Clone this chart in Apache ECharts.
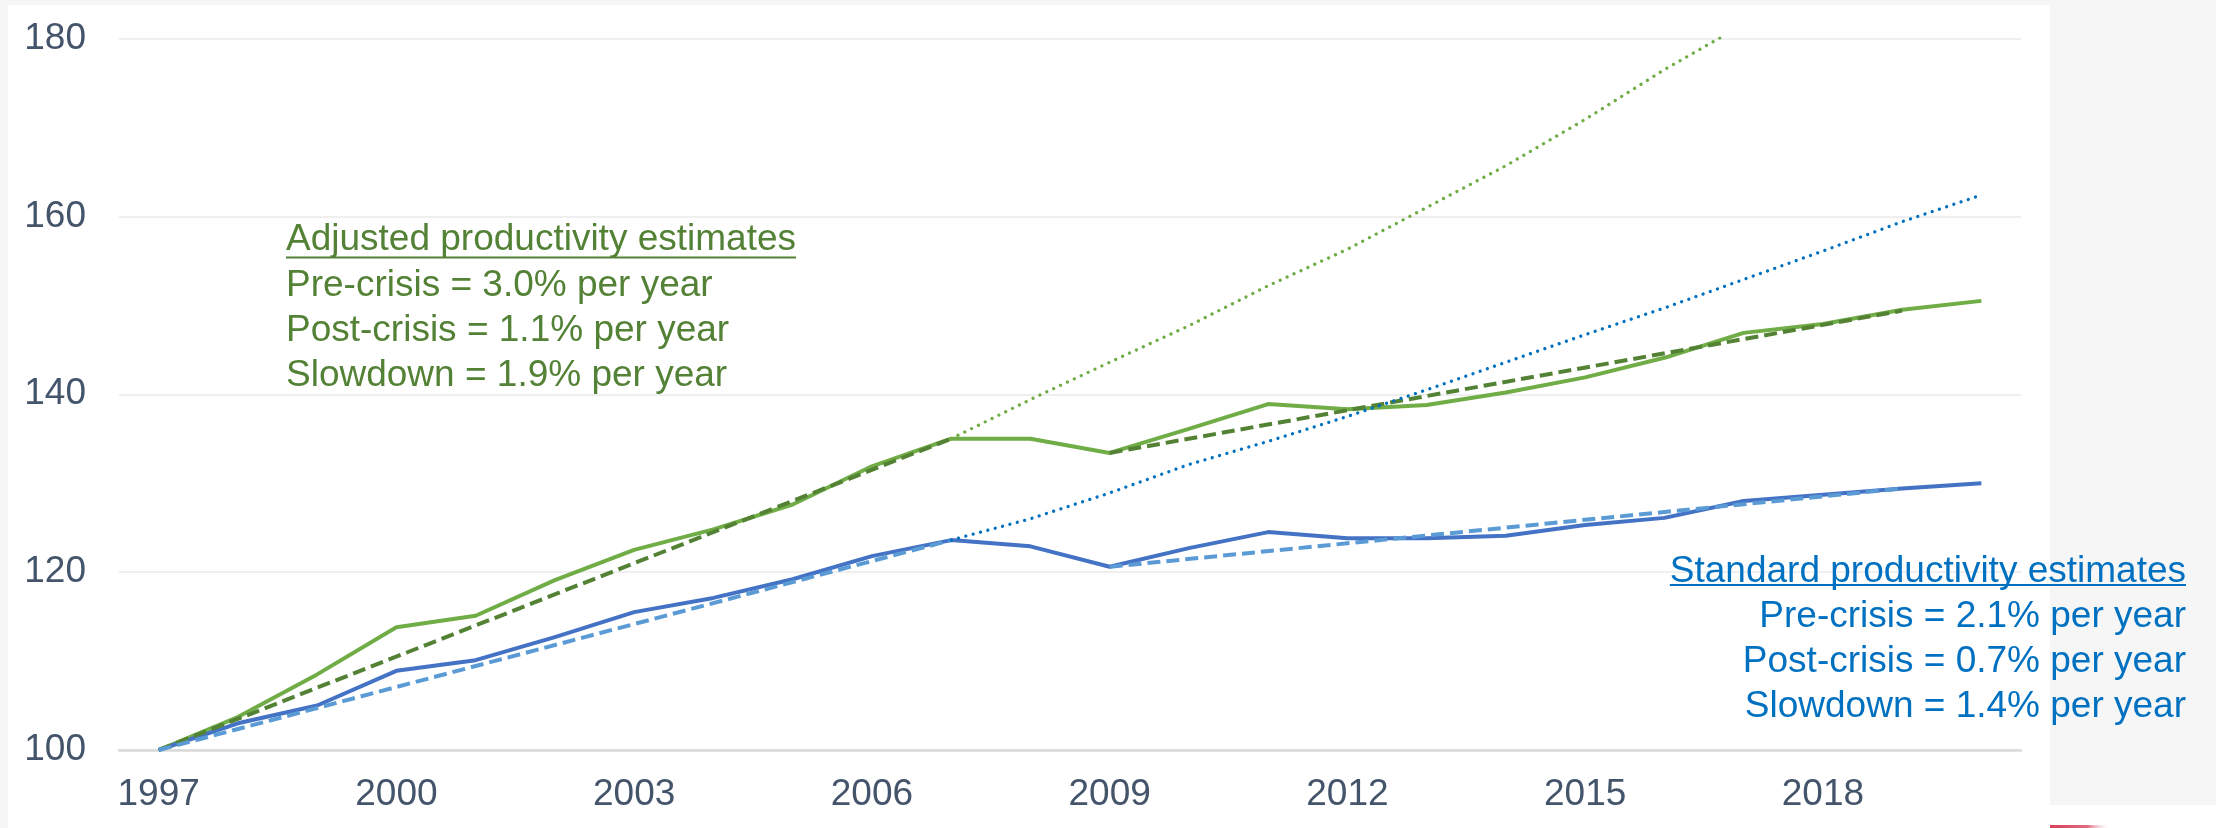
<!DOCTYPE html>
<html><head><meta charset="utf-8">
<script src="https://cdn.jsdelivr.net/npm/echarts@6/dist/echarts.min.js"></script>
<style>html,body{margin:0;padding:0;background:#f6f6f6}#c{width:2216px;height:828px}</style>
</head><body><div id="c"></div>
<script>
const years = ['1997','1998','1999','2000','2001','2002','2003','2004','2005','2006','2007','2008',
  '2009','2010','2011','2012','2013','2014','2015','2016','2017','2018','2019','2020'];
const adjusted = [100, 103.7, 108.5, 113.8, 115.1, 119.1, 122.5, 124.8, 127.6, 131.9, 135.0, 135.0,
  133.4, 136.1, 138.9, 138.3, 138.8, 140.2, 141.9, 144.1, 146.9, 147.9, 149.5, 150.5];
const standard = [100, 103.0, 105.0, 108.9, 110.1, 112.7, 115.5, 117.1, 119.2, 121.8, 123.6, 122.9,
  120.6, 122.7, 124.5, 123.8, 123.8, 124.1, 125.3, 126.1, 128.0, 128.7, 129.4, 130.0];
const adjustedPreTrend = [100, null, null, null, null, null, null, null, null, null, 135.0, null,
  null, null, null, null, null, null, null, null, null, null, null, null];
const adjustedPostTrend = [null, null, null, null, null, null, null, null, null, null, null, null,
  133.4, null, null, null, null, null, null, null, null, null, 149.4, null];
const standardPreTrend = [100, null, null, null, null, null, null, null, null, null, 123.6, null,
  null, null, null, null, null, null, null, null, null, null, null, null];
const standardPostTrend = [null, null, null, null, null, null, null, null, null, null, null, null,
  120.6, null, null, null, null, null, null, null, null, null, 129.4, null];
const adjustedCounterfactual = [null, null, null, null, null, null, null, null, null, null, 135.0, 139.4,
  143.6, 147.7, 152.2, 156.3, 161.0, 165.7, 170.9, 176.5, 181.6, null, null, null];
const standardCounterfactual = [null, null, null, null, null, null, null, null, null, null, 123.6, 126.0,
  128.9, 132.1, 134.7, 137.5, 140.5, 143.6, 146.7, 149.7, 152.9, 156.1, 159.4, 162.4];
const yMin = 100, yMax = 180, yStep = 20;
const adjustedNote = ['Adjusted productivity estimates', 'Pre-crisis = 3.0% per year',
  'Post-crisis = 1.1% per year', 'Slowdown = 1.9% per year'];
const standardNote = ['Standard productivity estimates', 'Pre-crisis = 2.1% per year',
  'Post-crisis = 0.7% per year', 'Slowdown = 1.4% per year'];

const FONT = '"Liberation Sans", Arial, sans-serif';
const FS = 37;
const GREEN_TXT = '#538135', BLUE_TXT = '#0070C0';

function measure(t) {
  const c = document.createElement('canvas').getContext('2d');
  c.font = FS + 'px ' + FONT;
  return c.measureText(t).width;
}

function line(data, color, width, type, cap, z) {
  return {
    type: 'line', data: data, symbol: 'none', connectNulls: true, silent: true, z: z,
    lineStyle: { color: color, width: width, type: type, cap: cap, join: 'round' }
  };
}

const chart = echarts.init(document.getElementById('c'), null, { renderer: 'canvas' });
const gw = measure(adjustedNote[0]);
const bw = measure(standardNote[0]);
const gx = 286, gTop = 217.5, bx = 2186, bTop = 549.5;

chart.setOption({
  animation: false,
  backgroundColor: '#f6f6f6',
  textStyle: { fontFamily: FONT },
  grid: { left: 119, right: 195, top: 38.5, bottom: 78 },
  xAxis: {
    type: 'category', data: years, boundaryGap: true,
    axisTick: { show: false },
    axisLine: { lineStyle: { color: '#D9D9D9', width: 2.5 } },
    axisLabel: { interval: 2, fontSize: FS, color: '#44546A', margin: 26, fontFamily: FONT },
    splitLine: { show: false }
  },
  yAxis: {
    type: 'value', min: yMin, max: yMax, interval: yStep,
    axisLine: { show: false }, axisTick: { show: false },
    axisLabel: { fontSize: FS, color: '#44546A', margin: 33, fontFamily: FONT },
    splitLine: { lineStyle: { color: '#EFEFEF', width: 2 } }
  },
  series: [
    line(adjusted, '#70AD47', 4, 'solid', 'butt', 3),
    line(standard, '#4472C4', 4, 'solid', 'butt', 3),
    line(adjustedPreTrend, '#548235', 4, [13, 6], 'butt', 4),
    line(adjustedPostTrend, '#548235', 4, [13, 6], 'butt', 4),
    line(standardPreTrend, '#5B9BD5', 4, [13, 6], 'butt', 4),
    line(standardPostTrend, '#5B9BD5', 4, [13, 6], 'butt', 4),
    line(adjustedCounterfactual, '#70AD47', 3.3, [0.01, 7.6], 'round', 5),
    line(standardCounterfactual, '#0070C0', 3.3, [0.01, 7.6], 'round', 5)
  ],
  graphic: [
    { type: 'rect', z: -100, silent: true, shape: { x: 8, y: 5, width: 2042, height: 823 }, style: { fill: '#ffffff' } },
    { type: 'rect', z: -100, silent: true, shape: { x: 2050, y: 805, width: 166, height: 23 }, style: { fill: '#ffffff' } },
    { type: 'rect', z: -99, silent: true, shape: { x: 2050, y: 825, width: 62, height: 3 },
      style: { fill: new echarts.graphic.LinearGradient(0, 0, 1, 0, [
        { offset: 0, color: '#D9415A' }, { offset: 0.6, color: '#E06A7E' }, { offset: 1, color: 'rgba(255,255,255,0)' }]) } },
    { type: 'text', z: 100, silent: true, x: gx, y: gTop,
      style: { text: adjustedNote.join('\n'), fill: GREEN_TXT, font: FS + 'px ' + FONT,
        lineHeight: 45.3, textAlign: 'left', textVerticalAlign: 'top' } },
    { type: 'line', z: 100, silent: true, shape: { x1: gx, y1: 257.5, x2: gx + gw, y2: 257.5 },
      style: { stroke: GREEN_TXT, lineWidth: 2 } },
    { type: 'text', z: 100, silent: true, x: bx, y: bTop,
      style: { text: standardNote.join('\n'), fill: BLUE_TXT, font: FS + 'px ' + FONT,
        lineHeight: 45, textAlign: 'right', textVerticalAlign: 'top' } },
    { type: 'line', z: 100, silent: true, shape: { x1: bx - bw, y1: 585, x2: bx, y2: 585 },
      style: { stroke: BLUE_TXT, lineWidth: 2 } }
  ]
});
</script>
</body></html>
